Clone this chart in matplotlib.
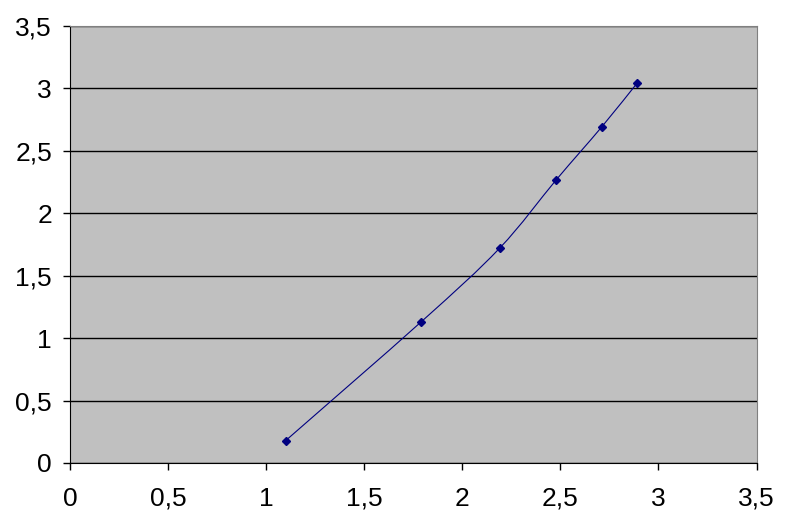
import matplotlib.pyplot as plt
import matplotlib.ticker as mticker
from matplotlib.path import Path
from matplotlib.patches import PathPatch
import numpy as np

plt.rcParams['font.family'] = ['Liberation Sans', 'DejaVu Sans']

x = [1.10, 1.79, 2.19, 2.48, 2.71, 2.89]
y = [0.18, 1.13, 1.72, 2.27, 2.69, 3.04]
ticks = [0, 0.5, 1, 1.5, 2, 2.5, 3, 3.5]

fig = plt.figure(figsize=(7.85, 5.28), dpi=100)
ax = fig.add_axes([70 / 785, 1 - 463 / 528, 686.5 / 785, 437 / 528])
ax.set_facecolor('#c0c0c0')

# smoothed line like excel (bezier through the points)
pts = np.column_stack([x, y])
verts = [pts[0]]
codes = [Path.MOVETO]
n = len(pts)
for i in range(n - 1):
    p0 = pts[i - 1] if i > 0 else pts[i]
    p1 = pts[i]
    p2 = pts[i + 1]
    p3 = pts[i + 2] if i + 2 < n else pts[i + 1]
    c1 = p1 + (p2 - p0) / 6
    c2 = p2 - (p3 - p1) / 6
    verts += [c1, c2, p2]
    codes += [Path.CURVE4] * 3
ax.add_patch(PathPatch(Path(verts, codes), fill=False, ec='#000080', lw=0.8, zorder=3))
ax.plot(x, y, ls='none', marker='D', ms=4, color='#000080', zorder=4)

ax.set_xlim(0, 3.5)
ax.set_ylim(0, 3.5)
ax.set_xticks(ticks)
ax.set_yticks(ticks)
fmt = mticker.FuncFormatter(lambda v, p: ('%g' % v).replace('.', ','))
ax.xaxis.set_major_formatter(fmt)
ax.yaxis.set_major_formatter(fmt)
ax.grid(axis='y', color='black', lw=1)
ax.set_axisbelow(True)
ax.tick_params(labelsize=19, length=5, width=1, direction='out', pad=8)
ax.tick_params(axis='x', pad=12)
for s in ['top', 'right']:
    ax.spines[s].set_color('#808080')
for s in ['left', 'bottom']:
    ax.spines[s].set_color('black')

fig.savefig('out.png', dpi=100)
